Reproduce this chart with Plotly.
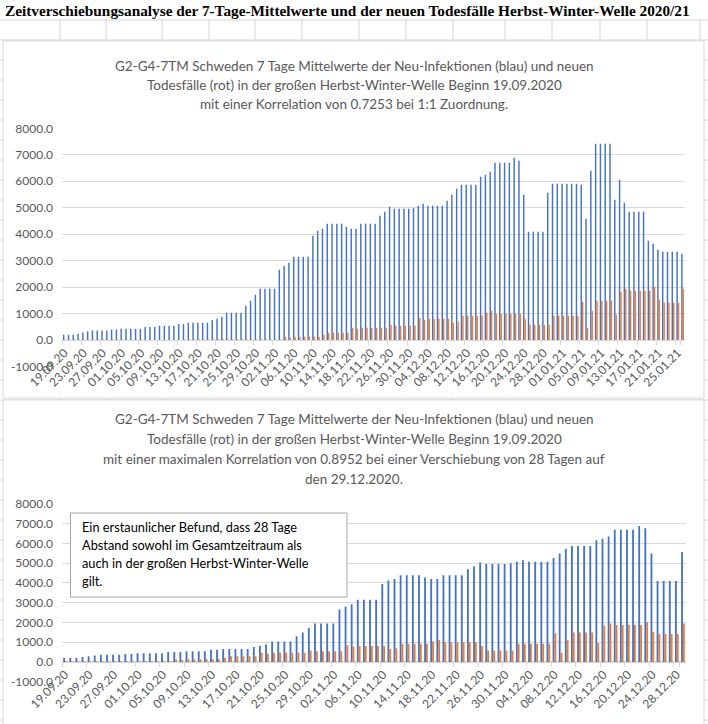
import pandas as pd
import plotly.graph_objects as go

W, H = 708, 724

# ---------------- data ----------------
# categories: daily dates 19.09.2020 .. 26.01.2021
dates = [d.strftime("%d.%m.%y") for d in pd.date_range("2020-09-19", "2021-01-26", freq="D")]

# 7-day mean of new infections (blue)
infections = [
    205, 205, 205, 245, 290, 330, 365, 365, 365, 365,
    400, 400, 435, 435, 435, 435, 435, 500, 500, 500,
    545, 545, 545, 545, 615, 615, 655, 655, 655, 655,
    655, 760, 808, 885, 1040, 1040, 1040, 1040, 1300, 1488,
    1714, 1942, 1942, 1942, 1942, 2658, 2808, 2928, 3155, 3155,
    3155, 3155, 3942, 4128, 4204, 4393, 4393, 4393, 4393, 4282,
    4204, 4204, 4396, 4396, 4396, 4396, 4698, 4849, 5038, 4962,
    4962, 4962, 4962, 5000, 5075, 5151, 5075, 5075, 5075, 5075,
    5264, 5491, 5717, 5868, 5868, 5868, 5868, 6170, 6245, 6358,
    6698, 6698, 6698, 6698, 6887, 6774, 5491, 4094, 4094, 4094,
    4094, 5566, 5906, 5906, 5906, 5906, 5906, 5906, 5868, 4585,
    6396, 7415, 7415, 7415, 7415, 5302, 6057, 5189, 4849, 4849,
    4849, 4849, 3755, 3642, 3415, 3340, 3340, 3340, 3340, 3264,
]

# 7-day mean of new deaths (orange, scaled as in the source chart)
deaths = [
    30, 30, 30, 25, 25, 30, 30, 30, 30, 25,
    25, 25, 20, 20, 20, 20, 20, 10, 10, 10,
    10, 10, 10, 10, 10, 25, 25, 25, 30, 30,
    30, 35, 35, 35, 35, 35, 35, 35, 30, 30,
    30, 30, 30, 30, 30, 30, 130, 94, 132, 132,
    132, 132, 132, 132, 207, 283, 283, 283, 283, 283,
    472, 434, 472, 472, 472, 472, 472, 472, 585, 547,
    547, 547, 547, 547, 849, 774, 811, 811, 811, 811,
    811, 660, 698, 925, 925, 925, 925, 925, 1038, 1113,
    1000, 1000, 1000, 1000, 1000, 1000, 811, 585, 585, 585,
    585, 585, 925, 925, 925, 925, 925, 925, 1453, 472,
    1113, 1491, 1491, 1491, 1491, 962, 1830, 1943, 1868, 1868,
    1868, 1868, 1868, 2019, 1528, 1415, 1415, 1415, 1415, 1943,
]

# second chart: same infections up to 29.12.2020, deaths shifted by 28 days
SHIFT = 28
N2 = 102
dates2 = dates[:N2]
infections2 = infections[:N2]
deaths2 = deaths[SHIFT:SHIFT + N2]

y_tick_vals = [-1000, 0, 1000, 2000, 3000, 4000, 5000, 6000, 7000, 8000]
y_tick_text = ["-1000.0", "0.0", "1000.0", "2000.0", "3000.0", "4000.0",
               "5000.0", "6000.0", "7000.0", "8000.0"]

page_title = "Zeitverschiebungsanalyse der 7-Tage-Mittelwerte und der neuen Todesfälle Herbst-Winter-Welle 2020/21"
title1 = [
    "G2-G4-7TM Schweden 7 Tage Mittelwerte der Neu-Infektionen (blau) und neuen",
    "Todesfälle (rot) in der großen Herbst-Winter-Welle Beginn 19.09.2020",
    "mit einer Korrelation von 0.7253 bei 1:1 Zuordnung.",
]
title2 = [
    "G2-G4-7TM Schweden 7 Tage Mittelwerte der Neu-Infektionen (blau) und neuen",
    "Todesfälle (rot) in der großen Herbst-Winter-Welle Beginn 19.09.2020",
    "mit einer maximalen Korrelation von 0.8952 bei einer Verschiebung von 28 Tagen auf",
    "den 29.12.2020.",
]
box_text = [
    "Ein erstaunlicher Befund, dass 28 Tage",
    "Abstand sowohl im Gesamtzeitraum als",
    "auch in der großen Herbst-Winter-Welle",
    "gilt.",
]

# ---------------- helpers ----------------
def px(p):
    return p / W

def py(p):
    return 1 - p / H

BLUE = "#4472C4"
ORANGE = "#ED7D31"
GRID = "#D9D9D9"
TXT = "#595959"
FONT = "Lato"

fig = go.Figure()
fig.add_bar(x=dates, y=infections, marker_color=BLUE, xaxis="x", yaxis="y", name="Neu-Infektionen")
fig.add_bar(x=dates, y=deaths, marker_color=ORANGE, xaxis="x", yaxis="y", name="Todesfälle")
fig.add_bar(x=dates2, y=infections2, marker_color=BLUE, xaxis="x2", yaxis="y2", name="Neu-Infektionen")
fig.add_bar(x=dates2, y=deaths2, marker_color=ORANGE, xaxis="x2", yaxis="y2", name="Todesfälle")
fig.update_traces(marker_line_width=0, showlegend=False, hoverinfo="skip")

# plot areas (pixel positions)
P1 = dict(left=62, right=685, top=128.3, bottom=366.7)
P2 = dict(left=62, right=686, top=504.0, bottom=681.7)


def yax(P, anchor):
    return dict(
        domain=[py(P["bottom"]), py(P["top"])], range=[-1000, 8000],
        tickmode="array", tickvals=y_tick_vals, ticktext=y_tick_text,
        showgrid=True, gridcolor=GRID, gridwidth=1,
        zeroline=True, zerolinecolor=GRID, zerolinewidth=1,
        showline=False, ticks="", ticklabelstandoff=8, automargin=False,
        tickfont=dict(family=FONT, size=12, color=TXT),
        anchor=anchor, fixedrange=True,
    )


def xax(P, cats):
    zero = py(P["bottom"]) + (py(P["top"]) - py(P["bottom"])) / 9.0
    return dict(
        domain=[px(P["left"]), px(P["right"])], anchor="free", position=zero,
        type="category", tickmode="array", tickvals=cats[::4], ticktext=cats[::4],
        tickangle=-45, showgrid=False, showline=True, linecolor=GRID, linewidth=1,
        ticks="outside", ticklen=4, tickcolor=GRID, tickson="boundaries", automargin=False,
        tickfont=dict(family=FONT, size=12, color=TXT), fixedrange=True,
    )


shapes = []
# spreadsheet cell grid in the background
for yy in range(20, H + 1, 20):
    shapes.append(dict(type="line", xref="paper", yref="paper", x0=0, x1=1,
                       y0=py(yy), y1=py(yy), line=dict(color="#D4D4D4", width=1), layer="below"))
for xx in [60, 106, 162, 209, 255, 302, 359, 406, 453, 505, 552, 600, 647, 700]:
    shapes.append(dict(type="line", xref="paper", yref="paper", x0=px(xx), x1=px(xx),
                       y0=py(20), y1=0, line=dict(color="#D4D4D4", width=1), layer="below"))
# chart boxes
shapes.append(dict(type="rect", xref="paper", yref="paper", x0=px(3), x1=px(704),
                   y0=py(398), y1=py(41), fillcolor="white", line=dict(color=GRID, width=1), layer="below"))
shapes.append(dict(type="rect", xref="paper", yref="paper", x0=px(3), x1=px(704),
                   y0=py(730), y1=py(400), fillcolor="white", line=dict(color=GRID, width=1), layer="below"))
# text box in chart 2
shapes.append(dict(type="rect", xref="paper", yref="paper", x0=px(70.5), x1=px(347),
                   y0=py(597), y1=py(513), fillcolor="white", line=dict(color="#A6A6A6", width=1), layer="above"))

ann = []
ann.append(dict(text=page_title, xref="paper", yref="paper", x=px(3), y=py(10), xanchor="left",
                yanchor="middle", showarrow=False,
                font=dict(family="Liberation Serif", size=15.3, color="black", weight="bold")))
for k, line in enumerate(title1):
    ann.append(dict(text=line, xref="paper", yref="paper", x=px(354), y=py(66 + 19 * k),
                    xanchor="center", yanchor="middle", showarrow=False,
                    font=dict(family=FONT, size=13.5, color=TXT)))
for k, line in enumerate(title2):
    ann.append(dict(text=line, xref="paper", yref="paper", x=px(354), y=py(419 + 20 * k),
                    xanchor="center", yanchor="middle", showarrow=False,
                    font=dict(family=FONT, size=13.5, color=TXT)))
for k, line in enumerate(box_text):
    ann.append(dict(text=line, xref="paper", yref="paper", x=px(80), y=py(527 + 18 * k),
                    xanchor="left", yanchor="middle", showarrow=False,
                    font=dict(family=FONT, size=12.8, color="black")))

fig.update_layout(
    width=W, height=H, margin=dict(l=0, r=0, t=0, b=0, pad=0, autoexpand=False),
    paper_bgcolor="white", plot_bgcolor="rgba(0,0,0,0)",
    barmode="group", bargap=0.4, bargroupgap=0,
    xaxis=xax(P1, dates), yaxis=yax(P1, "x"),
    xaxis2=xax(P2, dates2), yaxis2=yax(P2, "x2"),
    shapes=shapes, annotations=ann, showlegend=False,
)

fig.write_html("out.html", config={"displayModeBar": False, "staticPlot": True},
               post_script="document.body.style.margin='0';")
